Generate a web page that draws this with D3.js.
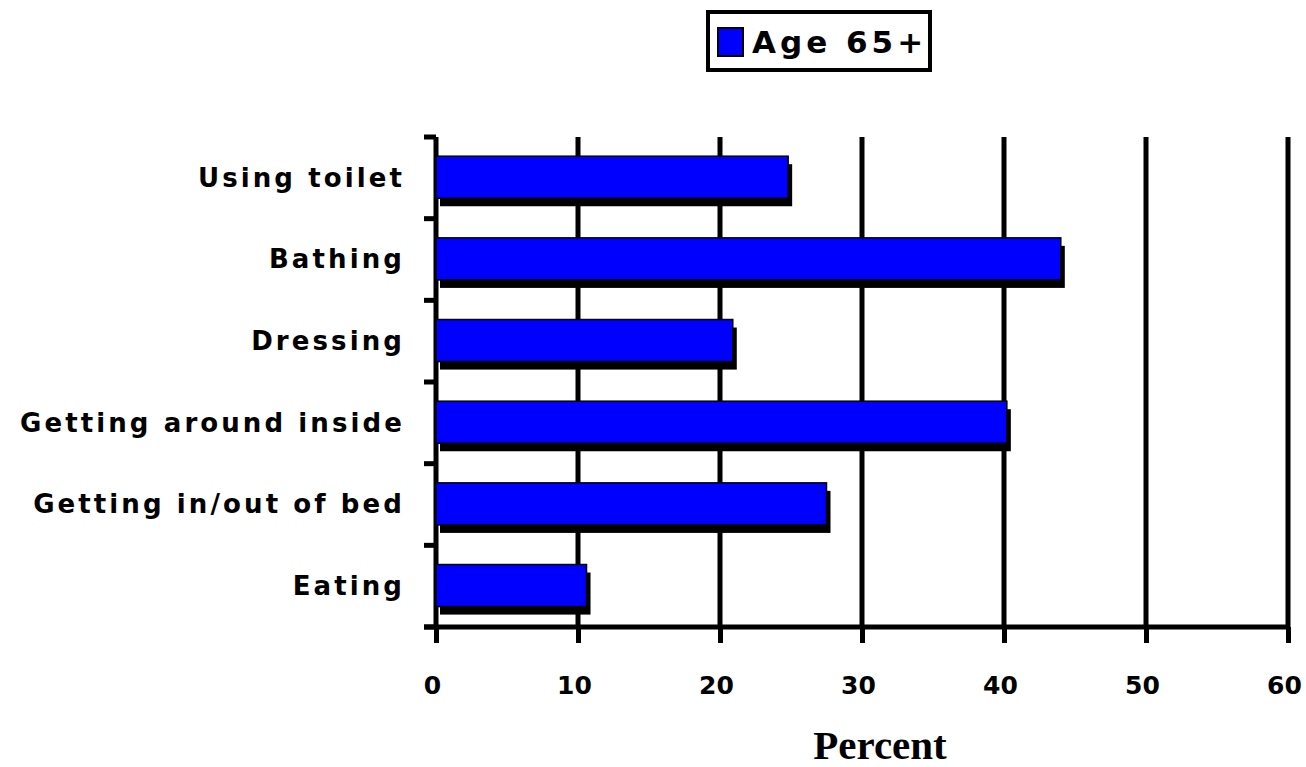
<!DOCTYPE html>
<html>
<head>
<meta charset="utf-8">
<script src="https://cdn.jsdelivr.net/npm/d3@7"></script>
<style>
  body { margin: 0; background: #fff; }
  .cat, .tick text { font-family: "DejaVu Sans", sans-serif; font-weight: bold; fill: #000; }
</style>
</head>
<body>
<div id="chart"></div>
<script>
const categories = ["Using toilet", "Bathing", "Dressing", "Getting around inside", "Getting in/out of bed", "Eating"];
const age65 = [24.8, 44.0, 20.9, 40.2, 27.5, 10.6];
const xTicks = [0, 10, 20, 30, 40, 50, 60];
const seriesName = "Age 65+";

const width = 1306, height = 767;
const margin = {top: 137, right: 18, bottom: 140, left: 436};

const svg = d3.select("#chart").append("svg")
  .attr("width", width)
  .attr("height", height);

const xScale = d3.scaleLinear()
  .domain([0, 60])
  .range([margin.left, width - margin.right]);

const yScale = d3.scaleBand()
  .domain(categories)
  .range([margin.top, height - margin.bottom])
  .padding(0);

const bw = yScale.bandwidth();
const barTop = bw * 0.235;
const barH = bw * 0.515;

// gridlines
svg.append("g")
  .selectAll("line")
  .data(xTicks.slice(1))
  .join("line")
    .attr("x1", d => xScale(d))
    .attr("x2", d => xScale(d))
    .attr("y1", margin.top)
    .attr("y2", height - margin.bottom)
    .attr("stroke", "#000")
    .attr("stroke-width", 5);

// bottom axis
const bottomAxis = d3.axisBottom(xScale)
  .tickValues(xTicks)
  .tickSize(16)
  .tickSizeOuter(0)
  .tickPadding(28);

const gx = svg.append("g")
  .attr("transform", `translate(0, ${height - margin.bottom})`)
  .call(bottomAxis);
gx.select(".domain")
  .attr("stroke-width", 5)
  .attr("d", `M${margin.left - 12},0H${xScale(60)}`);
gx.selectAll(".tick line").attr("stroke-width", 5);
gx.selectAll(".tick text")
  .attr("font-size", 25)
  .attr("dx", -4)
  .attr("dy", "0.9em");

// left axis with ticks at category boundaries
const bounds = categories.map(c => yScale(c)).concat([yScale.range()[1]]);
svg.append("line")
  .attr("x1", margin.left).attr("x2", margin.left)
  .attr("y1", margin.top).attr("y2", height - margin.bottom)
  .attr("stroke", "#000").attr("stroke-width", 5);
svg.append("g")
  .selectAll("line")
  .data(bounds)
  .join("line")
    .attr("x1", margin.left - 12)
    .attr("x2", margin.left)
    .attr("y1", d => d)
    .attr("y2", d => d)
    .attr("stroke", "#000")
    .attr("stroke-width", 5);

// bars with drop shadow
const bars = svg.append("g")
  .selectAll("g")
  .data(categories.map((c, i) => ({cat: c, value: age65[i]})))
  .join("g");

bars.append("rect")
  .attr("x", xScale(0) + 4)
  .attr("y", d => yScale(d.cat) + barTop + 8)
  .attr("width", d => xScale(d.value) - xScale(0))
  .attr("height", barH)
  .attr("fill", "#000");

bars.append("rect")
  .attr("x", xScale(0))
  .attr("y", d => yScale(d.cat) + barTop)
  .attr("width", d => xScale(d.value) - xScale(0))
  .attr("height", barH)
  .attr("fill", "#0000ff")
  .attr("stroke", "#000")
  .attr("stroke-width", 1.5);

// category labels
svg.append("g")
  .selectAll("text")
  .data(categories)
  .join("text")
    .attr("class", "cat")
    .attr("x", margin.left - 31)
    .attr("y", d => yScale(d) + barTop + barH / 2)
    .attr("dy", "0.36em")
    .attr("text-anchor", "end")
    .attr("font-size", 26)
    .attr("letter-spacing", 3.1)
    .text(d => d);

// x axis title
svg.append("text")
  .attr("x", 880)
  .attr("y", 759)
  .attr("text-anchor", "middle")
  .attr("font-family", "Liberation Serif, serif")
  .attr("font-weight", "bold")
  .attr("font-size", 41)
  .text("Percent");

// legend
const legend = svg.append("g").attr("transform", "translate(708, 12)");
legend.append("rect")
  .attr("width", 222).attr("height", 58)
  .attr("fill", "#fff").attr("stroke", "#000").attr("stroke-width", 4);
legend.append("rect")
  .attr("x", 10).attr("y", 16).attr("width", 25).attr("height", 28)
  .attr("fill", "#0000ff").attr("stroke", "#000").attr("stroke-width", 2);
legend.append("text")
  .attr("class", "cat")
  .attr("x", 44).attr("y", 30)
  .attr("dy", "0.36em")
  .attr("font-size", 31)
  .attr("letter-spacing", 4)
  .text(seriesName);
</script>
</body>
</html>
